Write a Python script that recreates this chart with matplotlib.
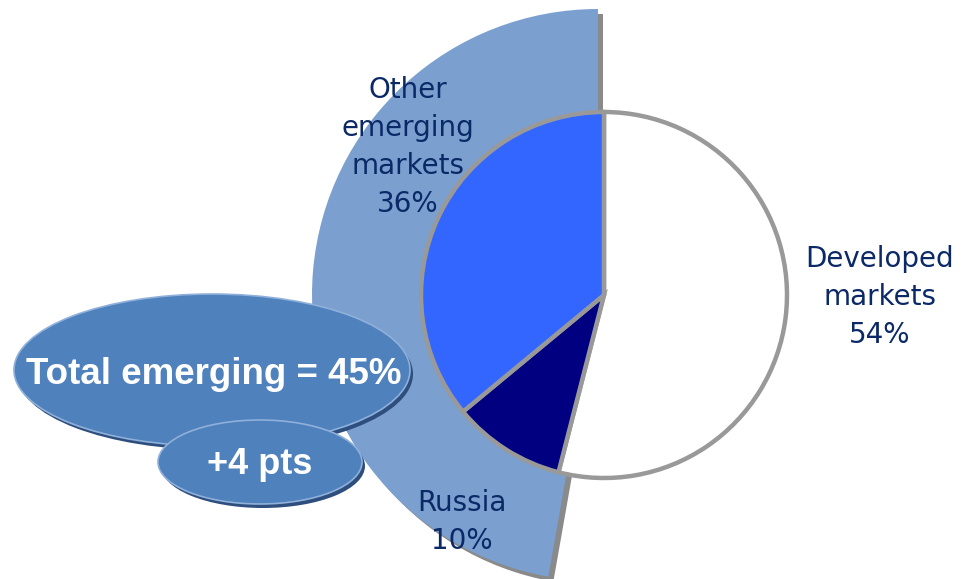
import matplotlib
matplotlib.use("Agg")
import matplotlib.pyplot as plt
from matplotlib.patches import Wedge, Ellipse

# Data
categories = ["Developed\nmarkets", "Russia", "Other\nemerging\nmarkets"]
shares = [54, 10, 36]
total_emerging = 45
change_pts = 4

W, H = 973, 579
fig = plt.figure(figsize=(W / 100, H / 100), dpi=100)
ax = fig.add_axes([0, 0, 1, 1])
ax.set_xlim(0, W)
ax.set_ylim(0, H)
ax.set_aspect("equal")
ax.axis("off")

def py(y):
    return H - y

# Background emerging wedge with shadow
bg_c = (598, py(295))
bg_r = 286
sh = Wedge((bg_c[0] + 5, bg_c[1] - 5), bg_r, 90, 260, facecolor="#8a8a8a",
           edgecolor="none", zorder=1)
ax.add_patch(sh)
bg = Wedge(bg_c, bg_r, 90, 260, facecolor="#7BA0CF", edgecolor="none", zorder=2)
ax.add_patch(bg)

# Main pie
colors = ["white", "#000080", "#3366FF"]
wedges, _ = ax.pie(shares, colors=colors, startangle=90, counterclock=False,
                   radius=183, center=(604, py(295)), frame=True,
                   wedgeprops=dict(edgecolor="#999999", linewidth=3.2))
for w in wedges:
    w.set_zorder(3)
ax.set_xlim(0, W)
ax.set_ylim(0, H)
ax.axis("off")

lab_color = "#0B2867"
fs = 20
ls = 1.45
ax.text(880, py(297), f"{categories[0]}\n{shares[0]}%", ha="center", va="center",
        fontsize=fs, color=lab_color, linespacing=ls, zorder=6)
ax.text(462, py(522), f"{categories[1]}\n{shares[1]}%", ha="center", va="center",
        fontsize=fs, color=lab_color, linespacing=ls, zorder=6)
ax.text(408, py(147), f"{categories[2]}\n{shares[2]}%", ha="center", va="center",
        fontsize=fs, color=lab_color, linespacing=ls, zorder=6)

# Callout ellipses
def bubble(cx, cy, w, h, z):
    ax.add_patch(Ellipse((cx + 3, py(cy) - 4), w, h, facecolor="#2E4E7E",
                         edgecolor="none", zorder=z))
    ax.add_patch(Ellipse((cx, py(cy)), w, h, facecolor="#4F81BD",
                         edgecolor="#8FB0DA", linewidth=1.2, zorder=z + 0.1))

bubble(212, 370, 396, 152, 7)
ax.text(214, py(375), f"Total emerging = {total_emerging}%", ha="center", va="center",
        fontsize=26.5, fontweight="bold", color="white",
        family="Liberation Sans", zorder=8)
bubble(260, 462, 204, 84, 9)
ax.text(260, py(465), f"+{change_pts} pts", ha="center", va="center",
        fontsize=26, fontweight="bold", color="white",
        family="Liberation Sans", zorder=10)

fig.savefig("out.png", dpi=100)
